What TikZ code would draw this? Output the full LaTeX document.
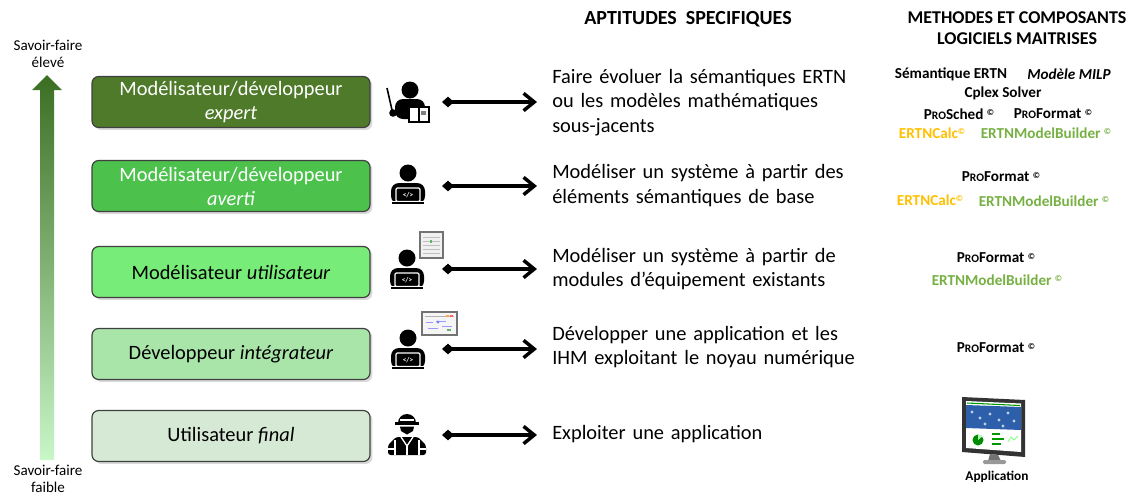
\documentclass[tikz,border=0pt]{standalone}
\usepackage{fontspec}
\setmainfont{Carlito}
\usetikzlibrary{arrows.meta,shadows}

\definecolor{tierA}{HTML}{4E7A2A}
\definecolor{tierB}{HTML}{4CC24C}
\definecolor{tierC}{HTML}{78EC78}
\definecolor{tierD}{HTML}{A9E4A9}
\definecolor{tierE}{HTML}{D5E9D5}
\definecolor{calcorange}{HTML}{FFC000}
\definecolor{buildergreen}{HTML}{76B043}
\definecolor{axistop}{HTML}{3A6E22}
\definecolor{axisbot}{HTML}{C8F7C8}
\definecolor{screenblue}{HTML}{2D5FAA}

% product names: P + small "RO" + rest, copyright mark raised
\newcommand\proname[1]{P{\fontsize{8.6}{10}\selectfont RO}#1}
\newcommand\copymark{\raisebox{0.45ex}{\fontsize{6.5}{7}\selectfont ©}}

\tikzset{
  tierbox/.style={draw=black!75, line width=0.9pt, rounded corners=5pt,
    minimum width=208.5pt, minimum height=38.25pt, align=center,
    font=\fontsize{15.3}{18}\selectfont,
    drop shadow={shadow xshift=1.8pt, shadow yshift=-1.8pt, opacity=0.3}},
  skill/.style={anchor=west, text width=228pt, align=left, inner sep=0pt,
    font=\fontsize{15.3}{18.4}\selectfont},
  link/.style={line width=2.6pt,
    {Diamond[length=9pt,width=8pt]}-{Straight Barb[length=8pt,width=13pt]}},
  tool/.style={inner sep=0pt, font=\bfseries\fontsize{11.4}{13}\selectfont},
  colhead/.style={inner sep=0pt, align=center, font=\bfseries\fontsize{15}{18}\selectfont},
  axislabel/.style={inner sep=0pt, align=center, font=\fontsize{11.3}{13}\selectfont},
  % person at a laptop, origin at the head
  coder/.pic={
    \fill (0,0) circle (8.5);
    \fill[rounded corners=6pt] (-17,10) rectangle (17,31);
    \filldraw[fill=black, draw=white, line width=0.9pt, rounded corners=1pt] (-12,15) rectangle (12,28.5);
    \filldraw[fill=black, draw=white, line width=0.8pt] (-17,28.5) rectangle (17,32);
    \node[text=white, inner sep=0pt, font=\bfseries\fontsize{5.5}{5.5}\selectfont] at (0,22) {</>};
  },
  % person with a pointer and an open book, origin at the head
  teacher/.pic={
    \fill (0,0) circle (8.5);
    \fill[rounded corners=6pt] (-15,9) rectangle (15,29);
    \draw[line width=1.2pt] (-23,-2) -- (-18,20);
    \fill (-17,23) circle (3.8);
    \filldraw[fill=white, draw=black, line width=1.3pt] (-1,17) rectangle (19,32);
    \draw[line width=0.9pt] (9,17) -- (9,32);
    \fill[black!50] (11,21) rectangle (16,25);
  },
  % worker with a hard hat, origin under the brim
  worker/.pic={
    \fill (-9,-1) arc[start angle=180, end angle=360, radius=9] -- cycle;
    \fill (-12,-2) rectangle (12,1);
    \draw[white, line width=0.8pt] (-7,-4) -- (7,-4);
    \fill (-7,2.5) -- (7,2.5) -- (6,7) -- (0,10.5) -- (-6,7) -- cycle;
    \fill[rounded corners=2pt] (-19,31) -- (-19,21) -- (-11,13) -- (11,13) -- (19,21) -- (19,31) -- cycle;
    \draw[white, line width=1pt] (-6,13) -- (0,22) -- (6,13);
    \draw[white, line width=1pt] (0,22) -- (0,31);
    \draw[white, line width=1pt] (-12,16) -- (-12,31) (12,16) -- (12,31);
    \draw[white, line width=1pt] (-19,25) -- (-12,25) (12,25) -- (19,25);
  }
}

\begin{document}
\begin{tikzpicture}[x=0.75pt,y=-0.75pt]
\useasboundingbox (0,0) rectangle (1136,497);

% know-how axis
\shade[top color=axistop, bottom color=axisbot]
  (40,460) -- (40,90) -- (32,90) -- (47,75) -- (62,90) -- (54,90) -- (54,460) -- cycle;
\node[axislabel] (high) at (48,54) {Savoir-faire\\élevé};
\node[axislabel] (low) at (48,479) {Savoir-faire\\faible};

% column headings
\node[colhead] (hskills) at (688,19) {APTITUDES\ \ SPECIFIQUES};
\node[colhead, font=\bfseries\fontsize{13.5}{16}\selectfont] (htools) at (1017,28)
  {METHODES ET COMPOSANTS\\LOGICIELS MAITRISES};

% profile boxes
\node[tierbox, fill=tierA, text=white] (p1) at (231,102) {Modélisateur/développeur\\\textit{expert}};
\node[tierbox, fill=tierB, text=white] (p2) at (231,186) {Modélisateur/développeur\\\textit{averti}};
\node[tierbox, fill=tierC] (p3) at (231,272) {Modélisateur \textit{utilisateur}};
\node[tierbox, fill=tierD] (p4) at (231,354) {Développeur \textit{intégrateur}};
\node[tierbox, fill=tierE] (p5) at (231,436) {Utilisateur \textit{final}};

% icons
\pic at (410,90) {teacher};
\pic at (408,173) {coder};
\pic at (407,258) {coder};
\pic at (408,338) {coder};
\pic at (407,424) {worker};

% document thumbnail
\filldraw[fill=black!6, draw=black!55, line width=0.8pt] (420,232) rectangle (443,258);
\foreach \yy in {237,241,245,249,253}
  \draw[black!25, line width=0.5pt] (423,\yy) -- (440,\yy);
\fill[green!50!black!60] (430,240) rectangle (432,243);
% screen thumbnail
\filldraw[fill=black!4, draw=black!55, line width=0.8pt] (422,312) rectangle (457,335);
\draw[black!30, line width=0.5pt] (425,316) -- (454,316);
\fill[orange!70] (446,315) rectangle (449,317);
\fill[red!60] (450,315) rectangle (453,317);
\draw[blue!40, line width=0.5pt] (426,322) -- (433,322) (436,321) -- (446,321) (428,328) -- (438,328) (442,326) -- (452,326);
\fill[blue!50] (438,322) circle (1.6);
\fill[green!50!black!60] (447,329) rectangle (451,331);

% skills
\node[skill] (s1) at (552,102.5) {\makebox[\linewidth][s]{Faire évoluer la sémantiques ERTN}\\
  \makebox[\linewidth][s]{ou les modèles mathématiques}\\sous-jacents};
\node[skill] (s2) at (552,185.5) {\makebox[\linewidth][s]{Modéliser un système à partir des}\\
  éléments sémantiques de base};
\node[skill] (s3) at (552,269) {\makebox[\linewidth][s]{Modéliser un système à partir de}\\
  modules d’équipement existants};
\node[skill] (s4) at (552,347) {\makebox[\linewidth][s]{Développer une application et les}\\
  IHM exploitant le noyau numérique};
\node[skill] (s5) at (552,434) {Exploiter une application};

% profile to skill links
\coordinate (a1) at (442,102); \coordinate (b1) at (537,102);
\coordinate (a2) at (442,186); \coordinate (b2) at (537,186);
\coordinate (a3) at (442,269); \coordinate (b3) at (537,269);
\coordinate (a4) at (442,349); \coordinate (b4) at (537,349);
\coordinate (a5) at (442,435); \coordinate (b5) at (537,435);
\foreach \i in {1,...,5} \draw[link] (a\i) -- (b\i);

% methods and software components
\node[tool] (t11) at (951,74) {Sémantique ERTN};
\node[tool, font=\bfseries\itshape\fontsize{11.4}{13}\selectfont] (t12) at (1069,74) {Modèle MILP};
\node[tool] (t13) at (1003,93) {Cplex Solver};
\node[tool] (t14) at (959,114) {\proname{Sched} \copymark};
\node[tool] (t15) at (1053,114) {\proname{Format} \copymark};
\node[tool, text=calcorange] (t16) at (932,133) {ERTNCalc\copymark};
\node[tool, text=buildergreen] (t17) at (1046,133) {ERTNModelBuilder \copymark};

\node[tool] (t21) at (1001,177) {\proname{Format} \copymark};
\node[tool, text=calcorange] (t22) at (930,200) {ERTNCalc\copymark};
\node[tool, text=buildergreen] (t23) at (1044,201) {ERTNModelBuilder \copymark};

\node[tool] (t31) at (996,258) {\proname{Format} \copymark};
\node[tool, text=buildergreen] (t32) at (997,280) {ERTNModelBuilder \copymark};

\node[tool] (t41) at (996,348) {\proname{Format} \copymark};

% application monitor
\fill[black!80] (962,397) -- (1025,400) -- (1025,457) -- (962,452) -- cycle;
\fill[white] (966,401) -- (1021,403.5) -- (1021,452) -- (966,448) -- cycle;
\fill[screenblue] (966,405) -- (1021,407) -- (1021,430) -- (966,428) -- cycle;
\draw[green!60!black, line width=0.8pt] (967,403) -- (1020,405.5);
\foreach \xx/\yy in {972/412,980/418,990/414,999/420,1008/413,1014/421,985/424,1003/426}
  \fill[white!70!screenblue] (\xx,\yy) circle (1.6);
\fill[green!55!black] (978,440) circle (5.5);
\fill[green!30] (978,440) -- (978,434.5) arc[start angle=270, end angle=320, radius=5.5] -- cycle;
\fill[green!60!black] (992,433) rectangle (1000,435);
\fill[green!60!black] (992,438) rectangle (1004,440);
\fill[green!60!black] (992,443) rectangle (1001,445);
\draw[green!50, line width=0.6pt] (1008,442) -- (1011,437) -- (1014,440) -- (1018,436);
\fill[black!55] (990,454) -- (998,455) -- (1001,461) -- (988,461) -- cycle;
\fill[black!40, rounded corners=1pt] (983,460) rectangle (1006,464);
\node[inner sep=0pt, font=\bfseries\fontsize{10}{12}\selectfont] (app) at (997,477) {Application};
\end{tikzpicture}
\end{document}
